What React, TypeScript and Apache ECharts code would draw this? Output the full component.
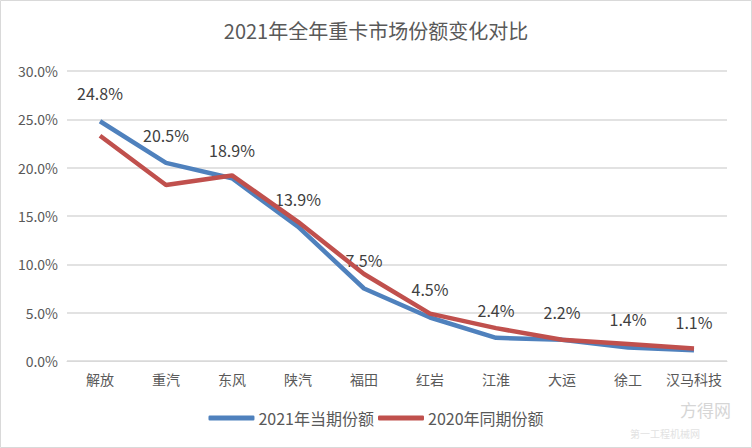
import React, { useEffect, useRef } from "react";
import * as echarts from "echarts";

const categories = ["解放", "重汽", "东风", "陕汽", "福田", "红岩", "江淮", "大运", "徐工", "汉马科技"];
const share2021 = [24.8, 20.5, 18.9, 13.9, 7.5, 4.5, 2.4, 2.2, 1.4, 1.1];
const share2020 = [23.3, 18.2, 19.2, 14.4, 9.0, 4.9, 3.4, 2.2, 1.75, 1.3];
const yTicks = [0, 5, 10, 15, 20, 25, 30];
const seriesNames = ["2021年当期份额", "2020年同期份额"];

const FONT = "'Noto Sans CJK SC', 'Noto Sans', sans-serif";

export default function App() {
  const ref = useRef<HTMLDivElement>(null);
  useEffect(() => {
    document.body.style.margin = "0";
    const chart = echarts.init(ref.current!, undefined, { renderer: "svg" });
    chart.setOption({
      animation: false,
      backgroundColor: "#ffffff",
      textStyle: { fontFamily: FONT },
      title: {
        text: "2021年全年重卡市场份额变化对比",
        left: "center",
        top: 15,
        textStyle: { fontSize: 20, fontWeight: "normal", color: "#595959", fontFamily: FONT },
      },
      grid: { left: 67, right: 25, top: 71, bottom: 87 },
      legend: {
        bottom: 17,
        left: "center",
        icon: "roundRect",
        itemWidth: 46,
        itemHeight: 5,
        itemGap: 4,
        textStyle: { fontSize: 16, color: "#595959", fontFamily: FONT, padding: [0, 0, 0, -1] },
        data: seriesNames,
      },
      xAxis: {
        type: "category",
        data: categories,
        boundaryGap: true,
        axisLine: { show: true, lineStyle: { color: "#D9D9D9", width: 1 } },
        axisTick: { show: false },
        axisLabel: { color: "#595959", fontSize: 14, margin: 11, interval: 0, fontFamily: FONT },
      },
      yAxis: {
        type: "value",
        min: yTicks[0],
        max: yTicks[yTicks.length - 1],
        interval: 5,
        axisLine: { show: false },
        axisTick: { show: false },
        splitLine: { lineStyle: { color: "#D9D9D9", width: 1.5 } },
        axisLabel: {
          color: "#595959",
          fontSize: 14,
          margin: 9,
          fontFamily: FONT,
          formatter: (v: number) => v.toFixed(1) + "%",
        },
      },
      series: [
        {
          name: seriesNames[0],
          type: "line",
          data: share2021,
          symbol: "circle",
          symbolSize: 0.1,
          z: 3,
          lineStyle: { color: "#4F81BD", width: 4.5 },
          itemStyle: { color: "#4F81BD" },
          label: {
            show: true,
            position: "top",
            distance: 20,
            color: "#404040",
            fontSize: 16,
            fontFamily: FONT,
            formatter: (p: any) => p.value.toFixed(1) + "%",
          },
        },
        {
          name: seriesNames[1],
          type: "line",
          data: share2020,
          symbol: "none",
          z: 4,
          lineStyle: { color: "#C0504D", width: 4.5 },
          itemStyle: { color: "#C0504D" },
        },
      ],
      graphic: [
        {
          type: "rect",
          shape: { x: 0.5, y: 0.5, width: 751, height: 447 },
          style: { fill: "none", stroke: "#D9D9D9", lineWidth: 1 },
          silent: true,
        },
        {
          type: "text",
          left: 680,
          top: 401,
          style: { text: "方得网", fontSize: 17, fill: "#d6d6d6", fontFamily: FONT },
          silent: true,
        },
        {
          type: "text",
          left: 630,
          top: 428,
          style: { text: "第一工程机械网", fontSize: 10, fill: "#e2e2e2", fontFamily: FONT },
          silent: true,
        },
      ],
    });
    return () => chart.dispose();
  }, []);
  return <div ref={ref} style={{ width: 752, height: 448, position: "absolute", left: 0, top: 0 }} />;
}
